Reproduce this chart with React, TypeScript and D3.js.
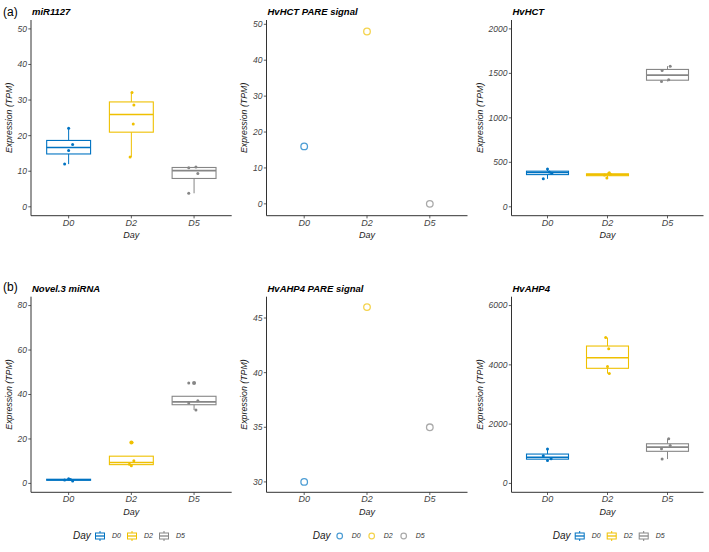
import React from "react";
import * as d3 from "d3";

// ---------------- data ----------------
const days = ["D0", "D2", "D5"];
const dayColors = ["#0073C2", "#EFC000", "#868686"];

// miR1127 (a, left) – per day replicate TPM values and horizontal jitter (category units)
const miR1127Values = [
  [12.0, 15.8, 17.5, 22.1],
  [14.0, 23.3, 28.6, 32.1],
  [3.8, 9.35, 11.0, 11.2],
];
const miR1127Jitter = [
  [-0.064, 0, 0.064, 0],
  [-0.02, 0.03, 0.04, 0.01],
  [-0.085, 0.06, -0.085, 0.03],
];
const miR1127Ticks = [0, 10, 20, 30, 40, 50];
const miR1127Domain = [-2.5, 52.5];

// HvHCT PARE signal (a, middle)
const hvhctPare = [16, 48, 0];
const hvhctPareTicks = [0, 10, 20, 30, 40, 50];
const hvhctPareDomain = [-3.3, 51.2];

// HvHCT (a, right)
const hvhctValues = [
  [314, 378, 392, 426],
  [325, 358, 366, 384],
  [1409, 1428, 1532, 1581],
];
const hvhctJitter = [
  [-0.07, 0.07, 0.03, 0],
  [-0.01, -0.05, 0.05, 0.03],
  [-0.1, 0.02, -0.09, 0.045],
];
const hvhctTicks = [0, 500, 1000, 1500, 2000];
const hvhctDomain = [-100, 2100];

// Novel.3 miRNA (b, left)
const novel3Values = [
  [1.1, 1.5, 1.8, 2.1],
  [8.0, 8.6, 10.2, 18.4],
  [33.0, 36.2, 37.2, 45.2],
];
const novel3Jitter = [
  [0.064, -0.064, 0.03, 0],
  [0, -0.03, 0.04, 0.01],
  [0.03, -0.085, 0.06, -0.085],
];
const novel3Ticks = [0, 20, 40, 60, 80];
const novel3Domain = [-4, 84];

// HvAHP4 PARE signal (b, middle)
const hvahp4Pare = [30, 46, 35];
const hvahp4PareTicks = [30, 35, 40, 45];
const hvahp4PareDomain = [29.05, 46.95];

// HvAHP4 (b, right)
const hvahp4Values = [
  [775, 833, 934, 1159],
  [3707, 3943, 4540, 4921],
  [822, 1170, 1281, 1506],
];
const hvahp4Jitter = [
  [0, 0.06, -0.07, 0],
  [0.03, 0, 0.02, -0.03],
  [-0.09, -0.1, 0.045, 0.02],
];
const hvahp4Ticks = [0, 2000, 4000, 6000];
const hvahp4Domain = [-300, 6300];

// ---------------- layout ----------------
const W = 709;
const H = 552;
const colLeft = [31, 266.5, 511.5];
const colRight = [231.7, 467.5, 703.5];
const rowTop = [20, 296.7];
const rowBottom = [215.7, 492.3];
const FONT = "'Liberation Sans', Arial, Helvetica, sans-serif";
const AXIS = "#333333";

type PanelProps = {
  row: number;
  col: number;
  title: string;
  kind: "box" | "point";
  values?: number[][];
  jitter?: number[][];
  points?: number[];
  ticks: number[];
  domain: number[];
};

function boxStats(vals: number[]) {
  const s = vals.slice().sort(d3.ascending);
  const q1 = d3.quantile(s, 0.25)!;
  const med = d3.quantile(s, 0.5)!;
  const q3 = d3.quantile(s, 0.75)!;
  const iqr = q3 - q1;
  const lo = q1 - 1.5 * iqr;
  const hi = q3 + 1.5 * iqr;
  const inside = s.filter((v) => v >= lo && v <= hi);
  return {
    q1,
    med,
    q3,
    wLo: d3.min(inside)!,
    wHi: d3.max(inside)!,
    outliers: s.filter((v) => v < lo || v > hi),
  };
}

function Panel({ row, col, title, kind, values, jitter, points, ticks, domain }: PanelProps) {
  const left = colLeft[col];
  const right = colRight[col];
  const top = rowTop[row];
  const bottom = rowBottom[row];
  const x = d3.scalePoint<string>().domain(days).range([left, right]).padding(0.6);
  const y = d3.scaleLinear().domain(domain).range([bottom, top]);
  const step = x.step();
  const bw = 0.7 * step;
  const maxChars = d3.max(ticks, (t) => String(t).length)!;
  const yTitleX = left - 4 - maxChars * 4.73 - 9;
  const midY = (top + bottom) / 2;
  const midX = (left + right) / 2;

  return (
    <g>
      <text
        x={left + 1}
        y={top - 5}
        fontFamily={FONT}
        fontSize={9.5}
        fontWeight="bold"
        fontStyle="italic"
        fill="#000"
      >
        {title}
      </text>
      {/* axes */}
      <line x1={left} x2={left} y1={top} y2={bottom} stroke={AXIS} strokeWidth={1} />
      <line x1={left} x2={right} y1={bottom} y2={bottom} stroke={AXIS} strokeWidth={1} />
      {ticks.map((t) => (
        <g key={"yt" + t}>
          <line x1={left - 2.7} x2={left} y1={y(t)} y2={y(t)} stroke={AXIS} strokeWidth={0.8} />
          <text
            x={left - 4}
            y={y(t)}
            dy="0.34em"
            textAnchor="end"
            fontFamily={FONT}
            fontSize={8.5}
            fontStyle="italic"
            fill="#444"
          >
            {t}
          </text>
        </g>
      ))}
      {days.map((d) => (
        <g key={"xt" + d}>
          <line x1={x(d)} x2={x(d)} y1={bottom} y2={bottom + 2.7} stroke={AXIS} strokeWidth={0.8} />
          <text
            x={x(d)}
            y={bottom + 7}
            dy="0.34em"
            textAnchor="middle"
            fontFamily={FONT}
            fontSize={9}
            fontStyle="italic"
            fill="#444"
          >
            {d}
          </text>
        </g>
      ))}
      <text
        x={midX}
        y={bottom + 19.5}
        dy="0.34em"
        textAnchor="middle"
        fontFamily={FONT}
        fontSize={9}
        fontStyle="italic"
        fill="#222"
      >
        Day
      </text>
      <text
        transform={`translate(${yTitleX},${midY}) rotate(-90)`}
        dy="0.34em"
        textAnchor="middle"
        fontFamily={FONT}
        fontSize={8.8}
        fontStyle="italic"
        fill="#222"
      >
        Expression (TPM)
      </text>

      {kind === "box" &&
        values!.map((vals, i) => {
          const st = boxStats(vals);
          const cx = x(days[i])!;
          const c = dayColors[i];
          return (
            <g key={"b" + i}>
              <line x1={cx} x2={cx} y1={y(st.q3)} y2={y(st.wHi)} stroke={c} strokeWidth={1} />
              <line x1={cx} x2={cx} y1={y(st.q1)} y2={y(st.wLo)} stroke={c} strokeWidth={1} />
              <rect
                x={cx - bw / 2}
                width={bw}
                y={y(st.q3)}
                height={Math.max(0.5, y(st.q1) - y(st.q3))}
                fill="#fff"
                stroke={c}
                strokeWidth={1.1}
              />
              <line x1={cx - bw / 2} x2={cx + bw / 2} y1={y(st.med)} y2={y(st.med)} stroke={c} strokeWidth={1.6} />
              {st.outliers.map((o, k) => (
                <circle key={"o" + k} cx={cx} cy={y(o)} r={2} fill={c} />
              ))}
              {vals.map((v, k) => (
                <circle key={"p" + k} cx={cx + jitter![i][k] * step} cy={y(v)} r={1.5} fill={c} />
              ))}
            </g>
          );
        })}

      {kind === "point" &&
        points!.map((v, i) => (
          <circle
            key={"pt" + i}
            cx={x(days[i])}
            cy={y(v)}
            r={3.3}
            fill="none"
            stroke={dayColors[i]}
            strokeOpacity={0.7}
            strokeWidth={1.3}
          />
        ))}
    </g>
  );
}

function Legend({ startX, kind }: { startX: number; kind: "box" | "point" }) {
  const cy = 536;
  return (
    <g>
      <text x={startX} y={cy} dy="0.34em" fontFamily={FONT} fontSize={10} fontStyle="italic" fill="#222">
        Day
      </text>
      {days.map((d, i) => {
        const kx = startX + 27 + i * 32;
        const c = dayColors[i];
        return (
          <g key={d}>
            {kind === "box" ? (
              <g>
                <line x1={kx} x2={kx} y1={cy - 5} y2={cy + 5} stroke={c} strokeWidth={1} />
                <rect x={kx - 4.5} y={cy - 3} width={9} height={6} fill="#fff" stroke={c} strokeWidth={1} />
                <line x1={kx - 4.5} x2={kx + 4.5} y1={cy} y2={cy} stroke={c} strokeWidth={1.3} />
              </g>
            ) : (
              <circle cx={kx} cy={cy} r={2.8} fill="none" stroke={c} strokeOpacity={0.7} strokeWidth={1.2} />
            )}
            <text
              x={kx + 12}
              y={cy}
              dy="0.34em"
              fontFamily={FONT}
              fontSize={7}
              fontStyle="italic"
              fill="#333"
            >
              {d}
            </text>
          </g>
        );
      })}
    </g>
  );
}

export default function App() {
  return (
    <svg
      width={W}
      height={H}
      viewBox={`0 0 ${W} ${H}`}
      style={{ position: "fixed", left: 0, top: 0, background: "#fff" }}
    >
      <rect width={W} height={H} fill="#fff" />
      <text x={3} y={16} fontFamily={FONT} fontSize={12} fill="#000">
        (a)
      </text>
      <text x={3} y={291} fontFamily={FONT} fontSize={12} fill="#000">
        (b)
      </text>

      <Panel row={0} col={0} title="miR1127" kind="box" values={miR1127Values} jitter={miR1127Jitter} ticks={miR1127Ticks} domain={miR1127Domain} />
      <Panel row={0} col={1} title="HvHCT PARE signal" kind="point" points={hvhctPare} ticks={hvhctPareTicks} domain={hvhctPareDomain} />
      <Panel row={0} col={2} title="HvHCT" kind="box" values={hvhctValues} jitter={hvhctJitter} ticks={hvhctTicks} domain={hvhctDomain} />

      <Panel row={1} col={0} title="Novel.3 miRNA" kind="box" values={novel3Values} jitter={novel3Jitter} ticks={novel3Ticks} domain={novel3Domain} />
      <Panel row={1} col={1} title="HvAHP4 PARE signal" kind="point" points={hvahp4Pare} ticks={hvahp4PareTicks} domain={hvahp4PareDomain} />
      <Panel row={1} col={2} title="HvAHP4" kind="box" values={hvahp4Values} jitter={hvahp4Jitter} ticks={hvahp4Ticks} domain={hvahp4Domain} />

      <Legend startX={73} kind="box" />
      <Legend startX={312.7} kind="point" />
      <Legend startX={552.7} kind="box" />
    </svg>
  );
}
